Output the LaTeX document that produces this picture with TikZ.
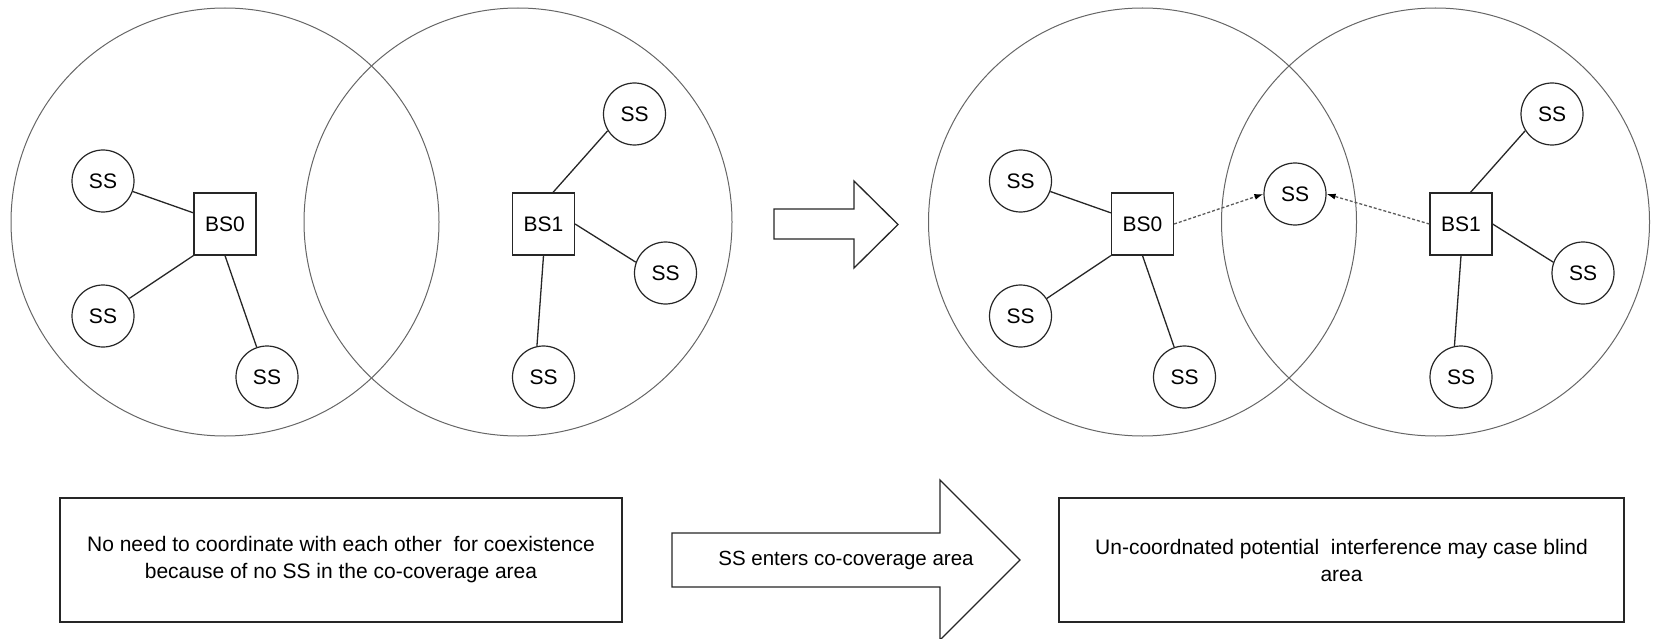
\documentclass[tikz,border=0pt]{standalone}
\usepackage{fontspec}
\setmainfont{Liberation Sans}
\usetikzlibrary{arrows.meta}
\begin{document}
\begin{tikzpicture}[x=1pt,y=-1pt,
  cov/.style={circle, draw=black!60, line width=1pt, minimum size=428pt, inner sep=0pt},
  ss/.style={circle, draw=black!85, line width=1.2pt, minimum size=62pt, inner sep=0pt, font=\fontsize{21}{25}\selectfont},
  bs/.style={rectangle, draw=black!85, line width=1.2pt, minimum size=62pt, inner sep=0pt, font=\fontsize{21}{25}\selectfont},
  link/.style={draw=black!85, line width=1.3pt},
  probe/.style={draw=black!65, line width=1.3pt, dash pattern=on 3pt off 2pt, -{Latex[length=9pt,width=6pt,color=black]}},
  hollow/.style={draw=black!85, line width=1.3pt, fill=white, line join=miter},
  note/.style={rectangle, draw=black!85, line width=1.4pt, minimum height=124pt, inner sep=0pt, align=center, font=\fontsize{21}{27}\selectfont},
  label/.style={inner sep=0pt, font=\fontsize{20.5}{27}\selectfont}
]
\useasboundingbox (0,0) rectangle (1653,639);

% ---------- left scene ----------
\node[cov] (covA) at (225,222) {};
\node[cov] (covB) at (518,222) {};
\node[bs] (bs0) at (225,224) {BS0};
\node[bs] (bs1) at (543.5,224) {BS1};
\node[ss] (s01) at (103,181) {SS};
\node[ss] (s02) at (103,316) {SS};
\node[ss] (s03) at (267,377) {SS};
\node[ss] (s11) at (634.5,114) {SS};
\node[ss] (s12) at (665.5,273) {SS};
\node[ss] (s13) at (543.5,377) {SS};
\draw[link] (s01) -- (bs0);
\draw[link] (s02) -- (bs0.south west);
\draw[link] (bs0.south) -- (s03);
\draw[link] ([xshift=9.5pt]bs1.north) -- (s11.212);
\draw[link] (bs1.east) -- (s12.160);
\draw[link] (bs1.south) -- (s13.102);

% ---------- top hollow arrow ----------
\draw[hollow] (774,209) -- (854,209) -- (854,181) -- (898,224.5) -- (854,268) -- (854,239) -- (774,239) -- cycle;

% ---------- right scene ----------
\node[cov] (covC) at (1142.5,222) {};
\node[cov] (covD) at (1435.5,222) {};
\node[bs] (rbs0) at (1142.5,224) {BS0};
\node[bs] (rbs1) at (1461,224) {BS1};
\node[ss] (r01) at (1020.5,181) {SS};
\node[ss] (r02) at (1020.5,316) {SS};
\node[ss] (r03) at (1184.5,377) {SS};
\node[ss] (r11) at (1552,114) {SS};
\node[ss] (r12) at (1583,273) {SS};
\node[ss] (r13) at (1461,377) {SS};
\node[ss] (rmid) at (1295,194) {SS};
\draw[link] (r01) -- (rbs0);
\draw[link] (r02) -- (rbs0.south west);
\draw[link] (rbs0.south) -- (r03);
\draw[link] ([xshift=9.5pt]rbs1.north) -- (r11.212);
\draw[link] (rbs1.east) -- (r12.160);
\draw[link] (rbs1.south) -- (r13.102);
\draw[probe] (rbs0.east) -- (rmid.west);
\draw[probe] (rbs1.west) -- (rmid.east);

% ---------- bottom row ----------
\node[note, minimum width=562pt] (noteA) at (341,560)
  {No need to coordinate with each other\ \ for coexistence\\because of no SS in the co-coverage area};
\draw[hollow] (672,533) -- (940,533) -- (940,480) -- (1020,560) -- (940,640) -- (940,587) -- (672,587) -- cycle;
\node[label] (enter) at (846,560) {SS enters co-coverage area};
\node[note, minimum width=565pt] (noteB) at (1341.5,560)
  {Un-coordnated potential\ \ interference may case blind\\area};
\end{tikzpicture}
\end{document}
